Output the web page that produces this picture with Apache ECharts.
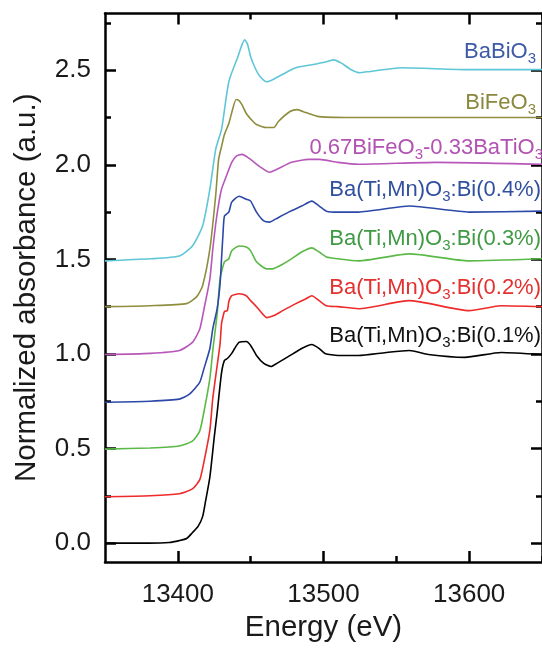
<!DOCTYPE html>
<html>
<head>
<meta charset="utf-8">
<script src="https://cdn.jsdelivr.net/npm/echarts@6/dist/echarts.min.js"></script>
<style>
  html, body { margin: 0; padding: 0; background: #fff; }
  #xanes { width: 542px; height: 648px; }
</style>
</head>
<body>
<div id="xanes"></div>
<script>
// energy (eV) vs normalized absorbance, curves already offset by 0.25
let bi01 = [[13350,0.0],[13380,0.0],[13394,0.003],[13401,0.013],[13406,0.024],[13410,0.055],[13414,0.09],
  [13417,0.14],[13419,0.22],[13422,0.35],[13425,0.56],[13427,0.69],[13430,0.9],[13432,0.966],[13434,0.976],
  [13437,1.003],[13439,1.029],[13442,1.061],[13447,1.066],[13450,1.045],[13454,0.992],[13459,0.95],
  [13464,0.934],[13468,0.95],[13476,0.987],[13485,1.029],[13492,1.05],[13497,1.029],[13501,1.003],
  [13510,0.992],[13524,0.992],[13543,1.008],[13559,1.018],[13572,0.997],[13597,0.982],[13622,1.008],[13650,0.997]];
let bi02 = [[13350,0.245],[13381,0.25],[13401,0.261],[13410,0.287],[13415,0.334],[13418,0.432],[13422,0.597],
  [13424,0.766],[13427,0.939],[13429,1.055],[13430,1.161],[13431,1.197],[13432,1.224],[13434,1.229],
  [13435,1.276],[13437,1.308],[13442,1.318],[13447,1.308],[13450,1.282],[13454,1.25],[13458,1.213],
  [13461,1.192],[13466,1.203],[13472,1.229],[13481,1.266],[13488,1.292],[13492,1.308],[13497,1.282],
  [13502,1.255],[13510,1.25],[13524,1.239],[13559,1.282],[13600,1.229],[13622,1.255],[13650,1.25]];
let bi03 = [[13350,0.497],[13381,0.503],[13401,0.513],[13410,0.539],[13415,0.592],[13418,0.697],[13422,0.871],
  [13424,1.018],[13427,1.213],[13429,1.397],[13432,1.487],[13435,1.503],[13437,1.545],[13442,1.571],
  [13447,1.566],[13450,1.545],[13454,1.487],[13461,1.45],[13465,1.45],[13470,1.466],[13478,1.503],
  [13485,1.539],[13492,1.561],[13497,1.539],[13502,1.513],[13510,1.503],[13524,1.492],[13559,1.529],
  [13600,1.492],[13650,1.503]];
let bi04 = [[13350,0.745],[13381,0.75],[13401,0.761],[13408,0.787],[13415,0.85],[13418,0.924],[13422,1.029],
  [13424,1.134],[13427,1.239],[13429,1.371],[13430,1.503],[13431,1.634],[13432,1.729],[13435,1.75],
  [13437,1.803],[13442,1.834],[13447,1.818],[13450,1.808],[13454,1.75],[13459,1.703],[13463,1.697],
  [13467,1.713],[13476,1.75],[13485,1.782],[13492,1.808],[13497,1.782],[13502,1.755],[13510,1.75],
  [13524,1.75],[13559,1.782],[13600,1.75],[13650,1.755]];
let bfoBto = [[13350,0.997],[13381,1.003],[13401,1.018],[13410,1.061],[13415,1.13],[13418,1.239],[13422,1.397],
  [13424,1.555],[13426,1.687],[13428,1.792],[13430,1.871],[13433,1.934],[13437,2.013],[13440,2.045],
  [13444,2.055],[13449,2.034],[13456,1.992],[13463,1.961],[13468,1.976],[13478,2.013],[13490,2.029],
  [13497,2.029],[13510,2.013],[13524,2.003],[13577,2.013],[13650,2.003]];
let bfo = [[13350,1.25],[13381,1.255],[13406,1.266],[13413,1.303],[13417,1.361],[13422,1.555],[13426,1.839],
  [13428,2.029],[13430,2.097],[13432,2.16],[13435,2.218],[13437,2.276],[13440,2.345],[13442,2.339],
  [13444,2.318],[13447,2.271],[13451,2.234],[13454,2.213],[13461,2.197],[13466,2.197],[13469,2.229],
  [13477,2.282],[13482,2.292],[13488,2.276],[13497,2.255],[13524,2.25],[13650,2.25]];
let bbo = [[13350,1.492],[13381,1.503],[13401,1.518],[13410,1.571],[13417,1.676],[13422,1.871],[13426,2.082],
  [13430,2.187],[13433,2.345],[13435,2.439],[13437,2.487],[13441,2.566],[13444,2.634],[13446,2.661],
  [13448,2.634],[13450,2.571],[13453,2.513],[13456,2.471],[13461,2.439],[13465,2.45],[13474,2.487],
  [13481,2.513],[13492,2.529],[13502,2.545],[13507,2.555],[13512,2.539],[13519,2.503],[13525,2.487],
  [13530,2.492],[13554,2.513],[13600,2.503],[13650,2.503]];

let curves = [bi01, bi02, bi03, bi04, bfoBto, bfo, bbo];
let curveColors = ['#000000', '#ee2a2a', '#5bb947', '#2c48a8', '#b657b9', '#8f8d3e', '#5ec7d7'];
let names = ['Ba(Ti,Mn)O{s|3}:Bi(0.1%)', 'Ba(Ti,Mn)O{s|3}:Bi(0.2%)', 'Ba(Ti,Mn)O{s|3}:Bi(0.3%)',
  'Ba(Ti,Mn)O{s|3}:Bi(0.4%)', '0.67BiFeO{s|3}-0.33BaTiO{s|3}', 'BiFeO{s|3}', 'BaBiO{s|3}'];
let nameColors = ['#111111', '#e4302f', '#3f9a43', '#30509f', '#b252b2', '#8a883d', '#3d5aa6'];

let xMajor = [13400, 13500, 13600];
let xMinor = [13450, 13550, 13650];
let yMajor = [0, 0.5, 1.0, 1.5, 2.0, 2.5];
let yMinor = [0.25, 0.75, 1.25, 1.75, 2.25, 2.75];

let font = 'Liberation Sans';
let black = '#000';

function axis(kind, pos, ticks, len, main){
  let a = {
    type: 'value',
    position: pos,
    min: kind=='x' ? 13350 : -0.1,
    max: kind=='x' ? 13650 : 2.8,
    axisLine: { show: main, onZero: false, lineStyle: { color: black, width: 2.5 } },
    axisTick: { show: true, inside: true, length: len, customValues: ticks, lineStyle: { color: black, width: 2.5 } },
    axisLabel: { show: false },
    splitLine: { show: false }
  };
  return a;
}

let xAxes = [axis('x','bottom',xMajor,11,true), axis('x','top',xMajor,11,true),
             axis('x','bottom',xMinor,6,false), axis('x','top',xMinor,6,false)];
xAxes[0].axisLabel = { show: true, customValues: xMajor, fontSize: 26, fontFamily: font, color: '#1a1a1a', margin: 20,
  formatter: function(v){ return String(v); } };
xAxes[0].name = 'Energy (eV)';
xAxes[0].nameLocation = 'middle';
xAxes[0].nameGap = 51;
xAxes[0].nameTextStyle = { fontSize: 29.5, fontFamily: font, color: '#1a1a1a' };

let yAxes = [axis('y','left',yMajor,11,true), axis('y','right',yMajor,11,true),
             axis('y','left',yMinor,6,false), axis('y','right',yMinor,6,false)];
yAxes[0].axisLabel = { show: true, customValues: yMajor, fontSize: 26, fontFamily: font, color: '#1a1a1a', margin: 14,
  formatter: function(v){ return v.toFixed(1); } };
yAxes[0].name = 'Normalized absorbance (a.u.)';
yAxes[0].nameLocation = 'middle';
yAxes[0].nameGap = 63;
yAxes[0].nameTextStyle = { fontSize: 29.5, fontFamily: font, color: '#1a1a1a' };

// label right edge / vertical centre, in pixels
let labelX = [541, 541, 541, 541, 543, 536, 536];
let labelY = [336, 288, 239, 190, 148, 103, 52];

const option = {
  animation: false,
  grid: { left: 105, top: 13.5, width: 439.5, height: 551 },
  xAxis: xAxes,
  yAxis: yAxes,
  series: curves.map(function(c, i){
    return {
      type: 'line',
      xAxisIndex: 0,
      yAxisIndex: 0,
      data: c,
      showSymbol: false,
      smooth: 0.2,
      lineStyle: { color: curveColors[i], width: 1.6 },
      z: 2
    };
  }),
  graphic: names.map(function(n, i){
    return {
      type: 'text',
      x: labelX[i],
      y: labelY[i],
      z: 10,
      style: {
        text: n,
        fill: nameColors[i],
        font: '22px "' + font + '"',
        align: 'right',
        verticalAlign: 'middle',
        lineHeight: 28,
        rich: { s: { fontSize: 15, lineHeight: 15, verticalAlign: 'bottom', fill: nameColors[i], fontFamily: font } }
      }
    };
  })
};

var myChart = echarts.init(document.getElementById('xanes'));
myChart.setOption(option);
</script>
</body>
</html>
